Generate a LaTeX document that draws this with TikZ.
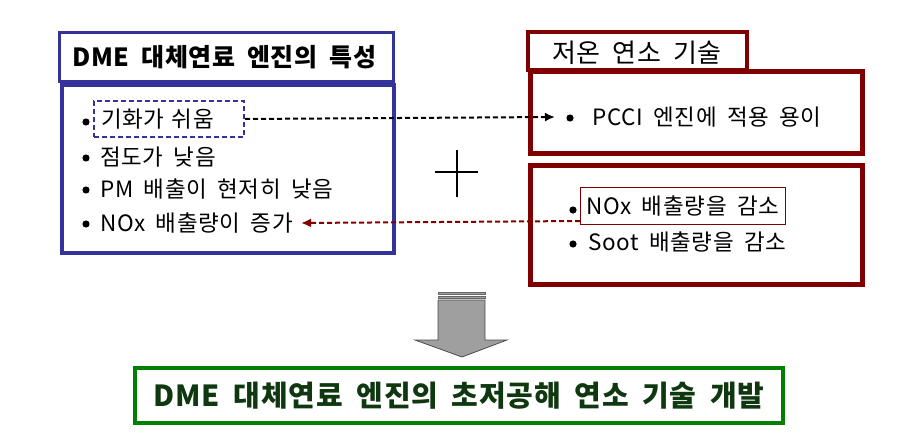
\documentclass[tikz,border=0pt]{standalone}
\usepackage{fontspec}
\setmainfont{Noto Sans CJK KR}[LetterSpace=3,WordSpace=1.8]
\usetikzlibrary{arrows.meta,positioning}
\definecolor{dmeblue}{RGB}{51,51,153}
\definecolor{lowred}{RGB}{128,0,0}
\definecolor{devgreen}{RGB}{0,128,0}
\definecolor{devtext}{RGB}{16,56,16}
\tikzset{
  item/.style={anchor=west,inner sep=0pt,font=\fontsize{22.5}{26}\selectfont},
  headtext/.style={anchor=west,inner sep=0pt,font=\fontsize{26}{30}\selectfont},
  linkarrow/.style={dash pattern=on 5pt off 3pt,line width=2pt,-{Latex[length=10pt,width=9pt]}},
}
\begin{document}
\begin{tikzpicture}[x=10pt,y=-10pt]
\useasboundingbox (0,0) rectangle (91.1,43.4);
\draw[dmeblue,line width=3pt] (5.9,3.2) rectangle (39.3,8.1);
\draw[dmeblue,line width=4.5pt] (6.2,8.5) rectangle (39.4,25.3);
\node[headtext,font=\bfseries\fontsize{25}{30}\selectfont] (dmehead) at (7.2,5.7) {DME 대체연료 엔진의 특성};
\node[item,draw=dmeblue,line width=2pt,dash pattern=on 5pt off 3pt,inner xsep=7pt,text width=136pt,minimum height=36pt] (easy) at (9.3,11.9) {기화가 쉬움};
\node[item] (visc) at (10.0,15.7) {점도가 낮음};
\node[item] (pmlow) at (10.0,18.9) {PM 배출이 현저히 낮음};
\node[item] (noxup) at (10.0,22.3) {NOx 배출량이 증가};
\foreach \y in {12.2,15.8,19.0,22.4} \fill (8.6,\y) circle (3.6pt);

\draw[lowred,line width=3.5pt] (52.8,3.2) rectangle (74.7,7.0);
\draw[lowred,line width=5pt] (53.0,7.1) rectangle (86.2,15.3);
\draw[lowred,line width=5pt] (53.0,16.5) rectangle (86.2,28.4);
\node[headtext] (lowhead) at (55.2,5.3) {저온 연소 기술};
\node[item] (pcci) at (59.2,11.7) {PCCI 엔진에 적용 용이};
\node[item,draw=lowred,line width=0.9pt,inner xsep=6pt,minimum height=37pt] (noxdown) at (58.0,20.6) {NOx 배출량을 감소};
\node[item] (soot) at (58.8,24.2) {Soot 배출량을 감소};
\foreach \x/\y in {57.0/11.8,57.3/21.0,57.3/24.4} \fill (\x,\y) circle (3.6pt);

\draw[line width=2.5pt] (43.5,17.2) -- (47.8,17.2);
\draw[line width=2.5pt] (45.7,15.0) -- (45.7,19.7);

\draw[linkarrow] (easy.east) -- (pcci.west -| 55.5,0);
\draw[linkarrow,lowred] (noxdown.west |- 0,22.1) -- ([xshift=8pt]noxup.east);

\draw[fill=gray!75,draw=black!60,line width=0.5pt] (43.8,29.2) rectangle (48.5,29.45);
\draw[fill=gray!75,draw=black!60,line width=0.5pt] (43.8,29.6) rectangle (48.5,29.85);
\draw[fill=gray!75,draw=black!70,line width=0.8pt] (43.8,30.0) -- (48.5,30.0) -- (48.5,34.0) -- (50.7,34.0)
  -- (46.2,35.7) -- (41.5,34.0) -- (43.8,34.0) -- cycle;

\node[draw=devgreen,line width=3.5pt,minimum width=648pt,minimum height=55pt,text=devtext,
  font=\bfseries\fontsize{29}{33}\selectfont] (develop) at (45.9,39.55) {DME 대체연료 엔진의 초저공해 연소 기술 개발};
\end{tikzpicture}
\end{document}
